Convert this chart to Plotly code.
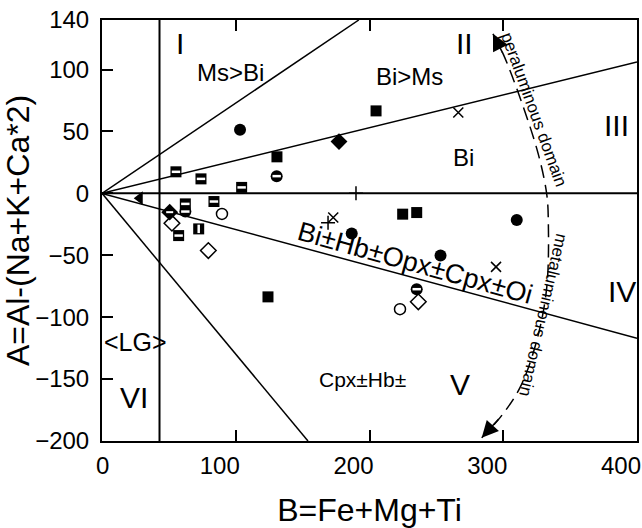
import plotly.graph_objects as go

# ---------------- data ----------------
filled_circle_x = [103.2, 186.7, 253.1, 310.1]
filled_circle_y = [51.3, -32.5, -50.2, -21.6]

filled_square_x = [130.8, 204.9, 224.8, 235.3, 124.1]
filled_square_y = [29.5, 66.6, -16.8, -15.5, -83.6]

filled_diamond_x = [177.2]
filled_diamond_y = [41.8]

half_circle_x = [130.6, 62.3, 235.3]
half_circle_y = [13.9, -14.7, -77.4]

half_square_x = [55.3, 74.0, 104.4, 62.3, 83.7, 57.3]
half_square_y = [17.4, 11.7, 4.8, -8.5, -6.6, -34.1]

vsplit_square_x = [72.3]
vsplit_square_y = [-28.7]

open_circle_x = [89.7, 222.8]
open_circle_y = [-16.6, -93.5]

open_diamond_x = [52.3, 79.5, 236.5]
open_diamond_y = [-24.1, -46.2, -87.6]

half_diamond_x = [50.6]
half_diamond_y = [-15.2]

triangle_x = [28.2]
triangle_y = [-3.9]

cross_x = [266.4, 172.9, 294.6]
cross_y = [65.3, -19.5, -59.4]

plus_x = [169.0, 189.9]
plus_y = [-23.8, 0.0]

# boundary lines of the diagram (from origin)
line_I_II_x, line_I_II_y = [0, 192], [0, 140]
line_II_III_x, line_II_III_y = [0, 400], [0, 106]
line_IV_V_x, line_IV_V_y = [0, 400], [0, -117]
line_V_VI_x, line_V_VI_y = [0, 154], [0, -200]
line_vert_x, line_vert_y = [43, 43], [-200, 140]
line_zero_x, line_zero_y = [0, 400], [0, 0]

# dashed arc separating peraluminous / metaluminous domains
arc_x = [292.3, 300.0, 312.5, 326.2, 332.5, 333.7, 332.5, 325.0, 312.5, 297.6, 283.9]
arc_y = [128.8, 112.4, 77.4, 31.7, -0.6, -22.2, -76.1, -119.1, -156.9, -181.1, -197.3]

x_tickvals = [0, 100, 200, 300, 400]
x_ticktext = ["\u00a0" * 5 + "0", "100", "200", "300", "400"]
y_tickvals = [-200, -150, -100, -50, 0, 50, 100, 140]

FONT = "Liberation Sans, Arial, sans-serif"

fig = go.Figure()

for lx, ly in [(line_I_II_x, line_I_II_y), (line_II_III_x, line_II_III_y),
               (line_IV_V_x, line_IV_V_y), (line_V_VI_x, line_V_VI_y),
               (line_vert_x, line_vert_y), (line_zero_x, line_zero_y)]:
    w = 2 if lx is line_vert_x or lx is line_zero_x else 1.5
    fig.add_trace(go.Scatter(x=lx, y=ly, mode="lines",
                             line=dict(color="black", width=w),
                             hoverinfo="skip"))

fig.add_trace(go.Scatter(x=arc_x, y=arc_y, mode="lines",
                         line=dict(color="black", width=1.5, dash="13px,7px", shape="spline"),
                         hoverinfo="skip"))


def mk(x, y, symbol, size, color="black", lw=0, lc="black"):
    fig.add_trace(go.Scatter(x=x, y=y, mode="markers",
                             marker=dict(symbol=symbol, size=size, color=color,
                                         line=dict(width=lw, color=lc))))


mk(filled_circle_x, filled_circle_y, "circle", 12)
mk(filled_square_x, filled_square_y, "square", 11)
mk(filled_diamond_x, filled_diamond_y, "diamond", 13)
mk(half_circle_x, half_circle_y, "circle", 12)
mk(half_circle_x, half_circle_y, "line-ew", 6, lw=2.5, lc="white")
mk(half_square_x, half_square_y, "square", 11)
mk(half_square_x, half_square_y, "line-ew", 6, lw=2.5, lc="white")
mk(vsplit_square_x, vsplit_square_y, "square", 11)
mk(vsplit_square_x, vsplit_square_y, "line-ns", 6, lw=2.5, lc="white")
mk(open_circle_x, open_circle_y, "circle-open", 11, lw=1.5)
mk(open_diamond_x, open_diamond_y, "diamond-open", 12, lw=1.5)
mk(half_diamond_x, half_diamond_y, "diamond", 13)
mk(half_diamond_x, half_diamond_y, "line-ew", 5, lw=2, lc="white")
mk(triangle_x, triangle_y, "triangle-left", 12)
mk(cross_x, cross_y, "x-thin", 10, lw=1.5)
mk(plus_x, plus_y, "cross-thin", 10, lw=1.5)

labels = [
    ("I", 58, 121, 30, 0),
    ("II", 271, 121, 30, 0),
    ("III", 385, 55, 30, 0),
    ("IV", 389, -79, 30, 0),
    ("V", 268, -154, 30, 0),
    ("VI", 24, -165, 30, 0),
    ("Ms>Bi", 96, 98, 24, 0),
    ("Bi>Ms", 230, 94, 24, 0),
    ("Bi", 270, 29, 24, 0),
    ("Bi±Hb±Opx±Cpx±Oi", 234, -56, 27, 15.5),
    ("Cpx±Hb±", 195, -150, 21, 0),
    ("<LG>", 24.7, -120, 25, 0),
    ("peraluminous domain", 323, 68, 17, 70),
    ("metaluminous domain", 330, -98.5, 17, 103),
]
annotations = []
for txt, x, y, sz, ang in labels:
    annotations.append(dict(x=x, y=y, xref="x", yref="y", text=txt, showarrow=False,
                            textangle=ang, xanchor="center", yanchor="middle",
                            font=dict(family=FONT, size=sz, color="black")))

# arrowheads at the ends of the dashed arc
annotations.append(dict(x=arc_x[0], y=arc_y[0], ax=arc_x[1], ay=arc_y[1],
                        xref="x", yref="y", axref="x", ayref="y", text="",
                        showarrow=True, arrowhead=2, arrowsize=2.2, arrowwidth=1.5,
                        arrowcolor="black"))
annotations.append(dict(x=arc_x[-1], y=arc_y[-1], ax=arc_x[-2], ay=arc_y[-2],
                        xref="x", yref="y", axref="x", ayref="y", text="",
                        showarrow=True, arrowhead=2, arrowsize=2.2, arrowwidth=1.5,
                        arrowcolor="black"))

fig.update_layout(
    width=642, height=528,
    margin=dict(l=102, r=5, t=20, b=87),
    paper_bgcolor="white", plot_bgcolor="white",
    showlegend=False,
    font=dict(family=FONT, color="black"),
    annotations=annotations,
    xaxis=dict(range=[0, 400], tickvals=x_tickvals, ticktext=x_ticktext,
               showgrid=False, zeroline=False,
               showline=True, linecolor="black", linewidth=2, mirror="ticks",
               ticks="inside", ticklen=11, tickwidth=1.5, tickcolor="black",
               tickfont=dict(size=24, family=FONT), ticklabelstandoff=2,
               ticklabelshift=-16, ticklabeloverflow="allow",
               title=dict(text="B=Fe+Mg+Ti", font=dict(size=32, family=FONT), standoff=26),
               automargin=False),
    yaxis=dict(range=[-200, 140], tickvals=y_tickvals, showgrid=False, zeroline=False,
               showline=True, linecolor="black", linewidth=2, mirror=True,
               ticks="inside", ticklen=11, tickwidth=1.5, tickcolor="black",
               tickfont=dict(size=24, family=FONT), ticklabelstandoff=6,
               ticklabeloverflow="allow",
               title=dict(text="A=Al-(Na+K+Ca*2)", font=dict(size=32, family=FONT), standoff=0),
               automargin=False),
)

fig.write_html("out.html",
               config={"displayModeBar": False},
               post_script="document.body.style.margin='0';document.body.style.overflow='hidden';")
